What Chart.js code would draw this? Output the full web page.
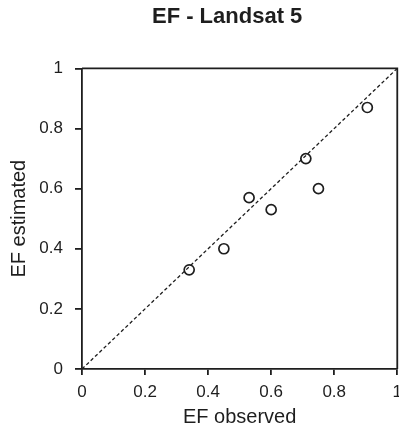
<!DOCTYPE html>
<html>
<head>
<meta charset="utf-8">
<script src="https://cdn.jsdelivr.net/npm/chart.js@4.4.0/dist/chart.umd.min.js"></script>
<style>
  html, body { margin: 0; padding: 0; background: #fff; overflow: hidden; }
  canvas { display: block; }
</style>
</head>
<body>
<!-- canvas wider than the window so the last x label gets cut like the original -->
<canvas id="efChart" width="409" height="431"></canvas>
<script>
// observed vs estimated EF
const efObserved = [0.34, 0.45, 0.53, 0.60, 0.71, 0.75, 0.905];
const efEstimated = [0.33, 0.40, 0.57, 0.53, 0.70, 0.60, 0.87];
const oneToOne = [0, 1];
const tickLabels = ["0", "0.2", "0.4", "0.6", "0.8", "1"];

const FONT = "'Liberation Sans', Arial, sans-serif";
const INK = "#1e1e1e";

// box around plot area (top + right sides), title nudged over the plot
const frame = {
  id: "frame",
  afterLayout(chart) {
    const t = chart.titleBlock;
    if (t) {
      t.left = chart.chartArea.left - 25;
      t.right = chart.chartArea.right;
    }
  },
  afterDraw(chart) {
    const { ctx, chartArea: a } = chart;
    ctx.save();
    ctx.strokeStyle = INK;
    ctx.lineWidth = 1.8;
    ctx.beginPath();
    ctx.moveTo(a.left, a.top);
    ctx.lineTo(a.right, a.top);
    ctx.lineTo(a.right, a.bottom);
    ctx.stroke();
    ctx.restore();
  }
};

const ctx = document.getElementById("efChart").getContext("2d");

new Chart(ctx, {
  type: "scatter",
  data: {
    datasets: [
      {
        label: "1:1",
        type: "line",
        data: oneToOne.map(v => ({ x: v, y: v })),
        borderColor: INK,
        borderWidth: 1.3,
        borderDash: [3.5, 2.5],
        pointRadius: 0,
        fill: false,
      },
      {
        label: "EF",
        data: efObserved.map((v, i) => ({ x: v, y: efEstimated[i] })),
        pointRadius: 5,
        pointBorderWidth: 1.7,
        pointBorderColor: INK,
        pointBackgroundColor: "#fff",
      },
    ],
  },
  options: {
    responsive: false,
    animation: false,
    layout: { padding: 0 },
    plugins: {
      legend: { display: false },
      tooltip: { enabled: false },
      title: {
        display: true,
        text: "EF - Landsat 5",
        color: INK,
        font: { family: FONT, size: 22, weight: "bold" },
        padding: { top: 4, bottom: 38 },
      },
    },
    scales: {
      x: {
        type: "linear",
        min: 0,
        max: 1,
        afterFit: (scale) => {
          scale.height = 62;
        },
        border: { display: true, color: INK, width: 1.8 },
        grid: { drawOnChartArea: false, drawTicks: true, tickLength: 6, color: INK, lineWidth: 1.8 },
        ticks: {
          stepSize: 0.2,
          color: INK,
          padding: 7,
          font: { family: FONT, size: 17 },
          callback: (v, i) => tickLabels[i],
        },
        title: {
          display: true,
          text: "EF observed",
          color: INK,
          font: { family: FONT, size: 20 },
          padding: { top: 0, bottom: 2 },
        },
      },
      y: {
        min: 0,
        max: 1,
        afterFit: (scale) => {
          scale.width = 82;
        },
        border: { display: true, color: INK, width: 1.8 },
        grid: { drawOnChartArea: false, drawTicks: true, tickLength: 7, color: INK, lineWidth: 1.8 },
        ticks: {
          stepSize: 0.2,
          color: INK,
          padding: 12,
          font: { family: FONT, size: 17 },
          callback: (v, i) => tickLabels[i],
        },
        title: {
          display: true,
          text: "EF estimated",
          color: INK,
          font: { family: FONT, size: 20 },
          padding: { top: 7, bottom: 0 },
        },
      },
    },
  },
  plugins: [frame],
});
</script>
</body>
</html>
